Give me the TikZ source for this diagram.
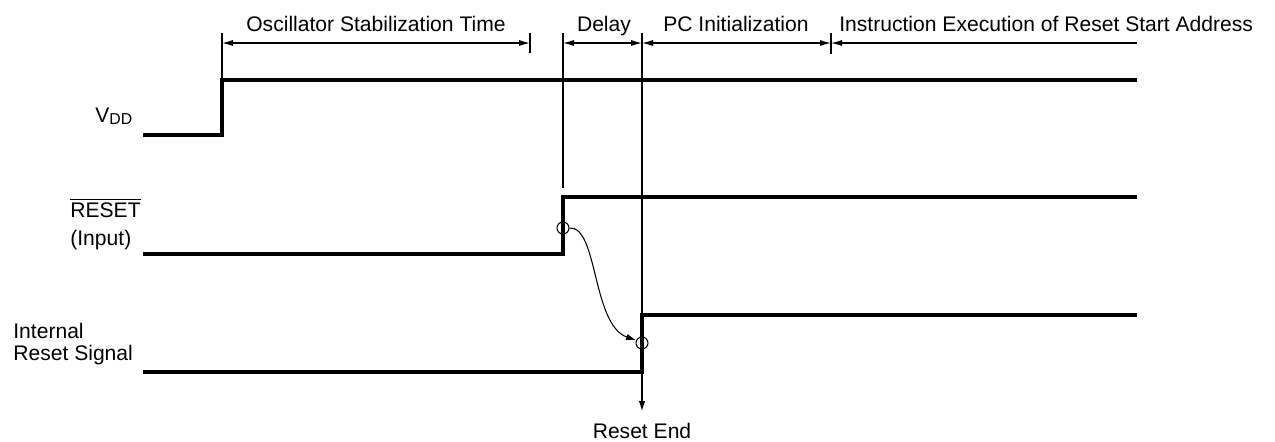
\documentclass[tikz,border=0pt]{standalone}
\usepackage{fontspec}
\setmainfont{Liberation Sans}
\usetikzlibrary{arrows.meta}

\begin{document}
\begin{tikzpicture}[x=0.02cm,y=-0.02cm,
    signal/.style={line width=1.8pt},
    guide/.style={line width=0.6pt},
    dimline/.style={line width=0.6pt},
    lbl/.style={inner sep=0pt,font=\fontsize{12}{14}\selectfont}]
  \useasboundingbox (0,0) rectangle (1275,441);

  % time marks on the dimension row
  \coordinate (tosc) at (222,43);
  \coordinate (tstab) at (530,43);
  \coordinate (tdly) at (563,43);
  \coordinate (tend) at (642,43);
  \coordinate (tpc) at (831,43);
  \coordinate (tfin) at (1137,43);

  % waveforms
  \draw[signal] (143,135) -- (222,135) -- (222,80) -- (1137,80);
  \draw[signal] (143,254) -- (563,254) -- (563,197) -- (1137,197);
  \draw[signal] (143,372) -- (642,372) -- (642,315) -- (1137,315);

  % guide lines
  \draw[guide] (222,33) -- (222,80);
  \draw[guide] (530,33) -- (530,53);
  \draw[guide] (563,33) -- (563,188);
  \draw[guide] (831,33) -- (831,54);
  \draw[guide,-{Latex[length=2mm,width=1.3mm]}] (642,33) -- (642,411) coordinate (rstend);

  % dimension arrows
  \draw[dimline,{Latex[length=2.2mm,width=1.2mm]}-{Latex[length=2.2mm,width=1.2mm]}] (tosc) -- (tstab);
  \draw[dimline,{Latex[length=2.2mm,width=1.2mm]}-{Latex[length=2.2mm,width=1.2mm]}] (tdly) -- (tend);
  \draw[dimline,{Latex[length=2.2mm,width=1.2mm]}-{Latex[length=2.2mm,width=1.2mm]}] (tend) -- (tpc);
  \draw[dimline,{Latex[length=2.2mm,width=1.2mm]}-] (tpc) -- (tfin);

  % edge marks
  \node[circle,draw,guide,inner sep=0pt,minimum size=2.4mm] (rstmark) at (563,228) {};
  \node[circle,draw,guide,inner sep=0pt,minimum size=2.4mm] (intmark) at (642,343) {};
  \draw[guide,-{Latex[length=2mm,width=1.3mm]}]
    (rstmark.east) .. controls (598,226) and (592,325) .. (intmark.155);

  % labels
  \node[lbl,anchor=base] (oscl) at (376,31) {Oscillator Stabilization Time};
  \node[lbl,anchor=base] (dlyl) at (604,31) {Delay};
  \node[lbl,anchor=base] (pcl) at (736,31) {PC Initialization};
  \node[lbl,anchor=base west] (exel) at (839,31) {Instruction Execution of Reset Start Address};

  \node[lbl,anchor=base west] (vddl) at (95,122) {V\raisebox{-0.2ex}{\fontsize{9}{10}\selectfont DD}};
  \node[lbl,anchor=base west] (rstl) at (70,217) {$\overline{\mbox{RESET}}$};
  \node[lbl,anchor=base west] (inpl) at (70,245) {(Input)};
  \node[lbl,anchor=base west] (intl) at (13,338) {Internal};
  \node[lbl,anchor=base west] (sigl) at (13,360) {Reset Signal};
  \node[lbl,anchor=base] (endl) at (642,438) {Reset End};
\end{tikzpicture}
\end{document}
